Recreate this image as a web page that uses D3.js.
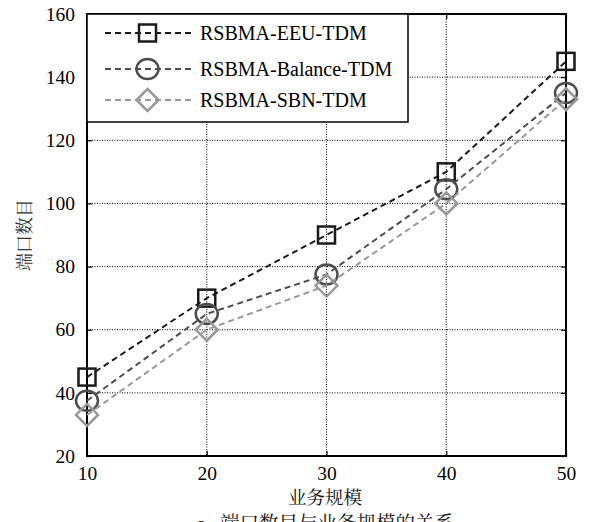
<!DOCTYPE html>
<html>
<head>
<meta charset="utf-8">
<script src="https://cdn.jsdelivr.net/npm/d3@7"></script>
<style>
  body { margin: 0; background: #fff; }
  svg { display: block; }
</style>
</head>
<body>
<div id="chart"></div>
<script>
// data
const scales_x = [10, 20, 30, 40, 50];
const eeu = [45, 70, 90, 110, 145];
const balance = [37.5, 65, 77.5, 104.5, 135];
const sbn = [33, 60, 74, 100, 133];
const y_ticks = [20, 40, 60, 80, 100, 120, 140, 160];
const series_names = ["RSBMA-EEU-TDM", "RSBMA-Balance-TDM", "RSBMA-SBN-TDM"];

const width = 589, height = 522;
const plot_left = 87, plot_right = 566, plot_top = 14, plot_bottom = 456;
const SERIF = "'Liberation Serif', 'Times New Roman', serif";
const CJK = "'Noto Serif CJK SC', 'Noto Sans CJK SC', serif";

let svg = d3.select("#chart").append("svg")
    .attr("width", width)
    .attr("height", height);

let x = d3.scaleLinear().domain([10, 50]).range([plot_left, plot_right]);
let y = d3.scaleLinear().domain([20, 160]).range([plot_bottom, plot_top]);

// grid
let grid = svg.append("g").attr("class", "grid");
grid.selectAll(".gx")
  .data(scales_x.slice(1, -1))
  .enter().append("line")
    .attr("x1", d => x(d)).attr("x2", d => x(d))
    .attr("y1", plot_top).attr("y2", plot_bottom)
    .attr("stroke", "#000").attr("stroke-width", 1)
    .attr("stroke-dasharray", "1,1.5");
grid.selectAll(".gy")
  .data(y_ticks.slice(1, -1))
  .enter().append("line")
    .attr("x1", plot_left).attr("x2", plot_right)
    .attr("y1", d => y(d)).attr("y2", d => y(d))
    .attr("stroke", "#000").attr("stroke-width", 1)
    .attr("stroke-dasharray", "1,1.5");

// axes, ticks inward
svg.append("g")
    .attr("transform", "translate(0," + plot_bottom + ")")
    .call(d3.axisBottom(x).tickValues(scales_x).tickSizeInner(-5).tickSizeOuter(0).tickPadding(10))
    .call(g => g.select(".domain").remove());
svg.append("g")
    .attr("transform", "translate(" + plot_left + ",0)")
    .call(d3.axisLeft(y).tickValues(y_ticks).tickSizeInner(-5).tickSizeOuter(0).tickPadding(12))
    .call(g => g.select(".domain").remove());
svg.append("g")
    .attr("transform", "translate(" + plot_right + ",0)")
    .call(d3.axisRight(y).tickValues(y_ticks).tickSizeInner(-5).tickSizeOuter(0).tickFormat(""))
    .call(g => g.select(".domain").remove());
svg.append("g")
    .attr("transform", "translate(0," + plot_top + ")")
    .call(d3.axisTop(x).tickValues(scales_x).tickSizeInner(-5).tickSizeOuter(0).tickFormat(""))
    .call(g => g.select(".domain").remove());

svg.selectAll(".tick line").attr("stroke", "#000").attr("stroke-width", 1.2);
svg.selectAll(".tick text")
    .style("font-family", SERIF)
    .style("font-size", "19.5px")
    .attr("fill", "#000");

svg.append("rect")
    .attr("x", plot_left).attr("y", plot_top)
    .attr("width", plot_right - plot_left).attr("height", plot_bottom - plot_top)
    .attr("fill", "none").attr("stroke", "#000").attr("stroke-width", 2);

const series = [
  {name: series_names[0], values: eeu, color: "#1a1a1a", marker: "square"},
  {name: series_names[1], values: balance, color: "#4d4d4d", marker: "circle"},
  {name: series_names[2], values: sbn, color: "#999999", marker: "diamond"}
];

function drawMarker(g, type, cx, cy, color) {
  if (type == "square") {
    g.append("rect")
      .attr("x", cx - 8.5).attr("y", cy - 8.5)
      .attr("width", 17).attr("height", 17)
      .attr("fill", "none").attr("stroke", color).attr("stroke-width", 2.5);
  } else if (type == "circle") {
    g.append("ellipse")
      .attr("cx", cx).attr("cy", cy).attr("rx", 11).attr("ry", 10)
      .attr("fill", "none").attr("stroke", color).attr("stroke-width", 2.5);
  } else {
    g.append("path")
      .attr("d", "M" + cx + "," + (cy - 11) + "L" + (cx + 11) + "," + cy + "L" + cx + "," + (cy + 11) + "L" + (cx - 11) + "," + cy + "Z")
      .attr("fill", "none").attr("stroke", color).attr("stroke-width", 2.5);
  }
}

let line = d3.line()
    .x((d, i) => x(scales_x[i]))
    .y(d => y(d));

let plot = svg.append("g");
series.forEach(function(s) {
  plot.append("path")
    .attr("d", line(s.values))
    .attr("fill", "none")
    .attr("stroke", s.color)
    .attr("stroke-width", 2)
    .attr("stroke-dasharray", "6,4");
  s.values.forEach(function(v, i) {
    drawMarker(plot, s.marker, x(scales_x[i]), y(v), s.color);
  });
});

// legend
let legend = svg.append("g");
legend.append("rect")
    .attr("x", plot_left).attr("y", plot_top)
    .attr("width", 408 - plot_left).attr("height", 122 - plot_top)
    .attr("fill", "#fff").attr("stroke", "#000").attr("stroke-width", 1.5);
const legend_y = [33, 69, 100];
series.forEach(function(s, i) {
  let ly = legend_y[i];
  legend.append("line")
    .attr("x1", 105).attr("x2", 192)
    .attr("y1", ly).attr("y2", ly)
    .attr("stroke", s.color).attr("stroke-width", 2)
    .attr("stroke-dasharray", "6,4");
  drawMarker(legend, s.marker, 147.5, ly, s.color);
  legend.append("text")
    .attr("x", 200).attr("y", ly + 7)
    .style("font-family", SERIF)
    .style("font-size", "20px")
    .attr("fill", "#000")
    .text(s.name);
});

// axis titles
svg.append("text")
    .attr("x", 325).attr("y", 504)
    .attr("text-anchor", "middle")
    .style("font-family", CJK)
    .style("font-size", "18.5px")
    .attr("fill", "#111")
    .text("业务规模");
svg.append("text")
    .attr("transform", "translate(31,235) rotate(-90)")
    .attr("text-anchor", "middle")
    .style("font-family", CJK)
    .style("font-size", "18px")
    .attr("fill", "#333")
    .text("端口数目");
svg.append("text")
    .attr("x", 197).attr("y", 530)
    .style("font-family", SERIF)
    .style("font-size", "19px")
    .attr("fill", "#111")
    .text("a");
svg.append("text")
    .attr("x", 220).attr("y", 530)
    .style("font-family", CJK)
    .style("font-size", "19.5px")
    .attr("fill", "#111")
    .text("端口数目与业务规模的关系");
</script>
</body>
</html>
